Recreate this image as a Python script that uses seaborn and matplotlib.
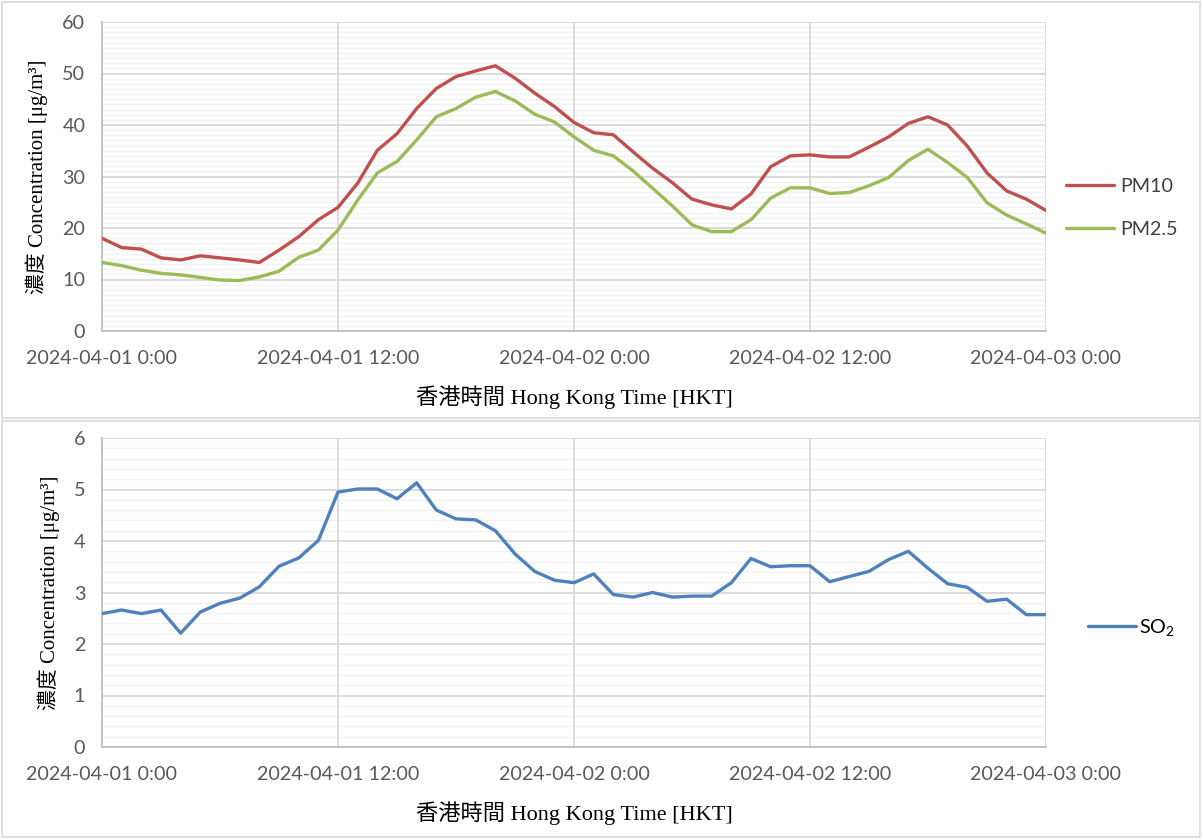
import pandas as pd
import seaborn as sns
import matplotlib
matplotlib.use("Agg")
import matplotlib.pyplot as plt
import matplotlib.ticker as mticker
from matplotlib.patches import Rectangle

# hourly readings, 2024-04-01 0:00 to 2024-04-03 0:00 (49 points)
times = pd.date_range("2024-04-01 00:00", "2024-04-03 00:00", freq="h")

pm10 = [18.0, 16.2, 15.9, 14.2, 13.8, 14.6, 14.2, 13.8, 13.3, 15.7,
        18.3, 21.6, 24.0, 28.7, 35.1, 38.3, 43.2, 47.1, 49.4, 50.5,
        51.5, 49.1, 46.2, 43.6, 40.5, 38.5, 38.1, 34.8, 31.6, 28.8,
        25.6, 24.5, 23.7, 26.6, 31.9, 34.0, 34.2, 33.8, 33.8, 35.7,
        37.7, 40.3, 41.6, 40.0, 35.9, 30.7, 27.2, 25.6, 23.4]
pm25 = [13.3, 12.7, 11.8, 11.2, 10.9, 10.4, 9.9, 9.8, 10.5, 11.6,
        14.3, 15.7, 19.6, 25.4, 30.7, 32.9, 37.1, 41.6, 43.2, 45.4,
        46.5, 44.7, 42.1, 40.6, 37.7, 35.1, 34.0, 31.1, 27.7, 24.3,
        20.6, 19.3, 19.3, 21.6, 25.8, 27.8, 27.8, 26.7, 26.9, 28.2,
        29.8, 33.1, 35.3, 32.7, 29.8, 24.9, 22.5, 20.8, 19.0]
so2 = [2.59, 2.66, 2.59, 2.66, 2.21, 2.62, 2.79, 2.89, 3.11, 3.51,
       3.67, 4.01, 4.95, 5.01, 5.01, 4.82, 5.13, 4.60, 4.43, 4.41,
       4.20, 3.75, 3.41, 3.24, 3.19, 3.36, 2.96, 2.91, 3.00, 2.91,
       2.93, 2.93, 3.19, 3.66, 3.50, 3.52, 3.52, 3.21, 3.31, 3.41,
       3.64, 3.80, 3.47, 3.17, 3.10, 2.83, 2.87, 2.57, 2.57]

tick_times = pd.date_range("2024-04-01 00:00", "2024-04-03 00:00", freq="12h")
tick_labels = [f"{t:%Y-%m-%d} {t.hour}:00" for t in tick_times]

ylabel = "濃度 Concentration [μg/m³]"
xlabel = "香港時間 Hong Kong Time [HKT]"

sns.set_style("white")
plt.rcParams["font.family"] = ["Lato", "DejaVu Sans"]
plt.rcParams["mathtext.fontset"] = "custom"
plt.rcParams["mathtext.rm"] = "Lato"
plt.rcParams["mathtext.default"] = "regular"
serif = ["Liberation Serif", "Noto Sans CJK TC", "DejaVu Serif"]

top_df = pd.DataFrame({"time": list(times) * 2,
                       "value": pm10 + pm25,
                       "series": ["PM10"] * len(pm10) + ["PM2.5"] * len(pm25)})
bot_df = pd.DataFrame({"time": times, "value": so2, "series": "SO$_2$"})

fig = plt.figure(figsize=(12.03, 8.39), dpi=100)

# light chart frames
for y0, h in [(421 / 839, 416 / 839), (2 / 839, 416 / 839)]:
    fig.patches.append(Rectangle((2 / 1203, y0), 1198 / 1203, h,
                                 transform=fig.transFigure, fill=False,
                                 edgecolor="#d9d9d9", linewidth=1.2))

ax1 = fig.add_axes([102 / 1203, 1 - 331 / 839, 944 / 1203, 309 / 839])
ax2 = fig.add_axes([102 / 1203, 1 - 747 / 839, 944 / 1203, 309 / 839])

sns.lineplot(data=top_df, x="time", y="value", hue="series", ax=ax1,
             palette={"PM10": "#c0504d", "PM2.5": "#9bbb59"}, linewidth=2.4)
sns.lineplot(data=bot_df, x="time", y="value", hue="series", ax=ax2,
             palette={"SO$_2$": "#4f81bd"}, linewidth=2.4)


def style(ax, ymax, major, minor):
    ax.set_xlim(times[0], times[-1])
    ax.set_ylim(0, ymax)
    ax.yaxis.set_major_locator(mticker.MultipleLocator(major))
    ax.yaxis.set_minor_locator(mticker.MultipleLocator(minor))
    ax.set_xticks(tick_times)
    ax.set_xticklabels(tick_labels)
    ax.xaxis.set_minor_locator(mticker.NullLocator())
    ax.grid(True, which="major", color="#d9d9d9", linewidth=1.3, linestyle="-")
    ax.grid(True, which="minor", axis="y", color="#f2f2f2", linewidth=1.0,
            linestyle="-")
    ax.set_axisbelow(True)
    # vertical grid on top of the light minor lines
    ax.yaxis.set_zorder(0.5)
    ax.xaxis.set_zorder(0.6)
    for s in ["top", "right"]:
        ax.spines[s].set_visible(False)
    for s in ["left", "bottom"]:
        ax.spines[s].set_color("#bfbfbf")
        ax.spines[s].set_linewidth(1.3)
        ax.spines[s].set_zorder(0.7)
    ax.tick_params(axis="both", which="major", direction="out", length=5,
                   width=1.3, color="#bfbfbf", labelcolor="#595959",
                   labelsize=14.2)
    ax.tick_params(axis="x", pad=9)
    ax.tick_params(axis="y", pad=7)
    ax.tick_params(which="minor", length=0)
    ax.set_ylabel(ylabel, family=serif, fontsize=15, color="#000000",
                  labelpad=10)
    ax.set_xlabel(xlabel, family=serif, fontsize=16, color="#000000",
                  labelpad=13)


style(ax1, 60, 10, 1)
style(ax2, 6, 1, 0.2)

ax1.legend(loc="center left", bbox_to_anchor=(1056 / 1203, 1 - 208 / 839),
           bbox_transform=fig.transFigure, frameon=False, title=None,
           fontsize=14.2, handlelength=2.45, handletextpad=0.3,
           labelspacing=1.3, borderpad=0, labelcolor="#404040")
ax2.legend(loc="center left", bbox_to_anchor=(1078 / 1203, 1 - 627 / 839),
           bbox_transform=fig.transFigure, frameon=False, title=None,
           fontsize=14.2, handlelength=2.45, handletextpad=0.12,
           borderpad=0, labelcolor="#000000")

fig.savefig("out.png", dpi=100)
